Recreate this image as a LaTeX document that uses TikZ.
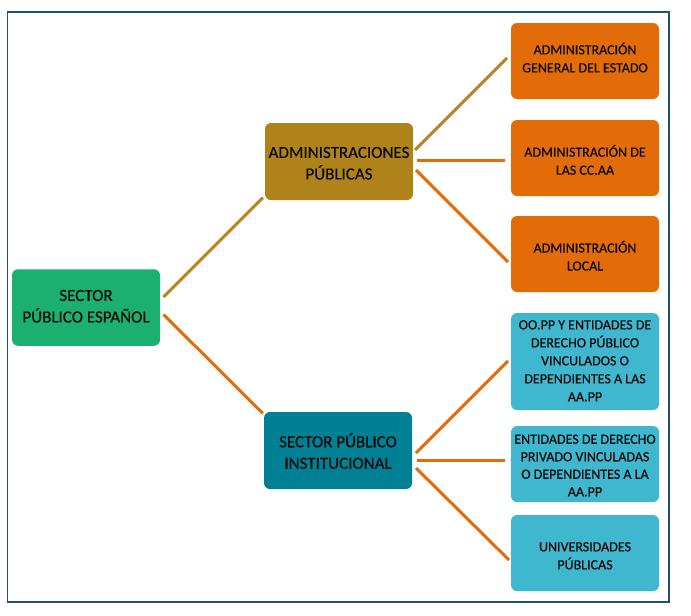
\documentclass[tikz,border=0pt]{standalone}
\usepackage{fontspec}
\setmainfont{Carlito}[FakeBold=0.35]
\definecolor{cgreen}{RGB}{27,176,112}
\definecolor{cgold}{RGB}{176,130,26}
\definecolor{clgold}{RGB}{180,135,35}
\definecolor{cteal}{RGB}{0,128,148}
\definecolor{corange}{RGB}{227,108,9}
\definecolor{clblue}{RGB}{62,183,207}
\definecolor{cframe}{RGB}{31,78,121}
\definecolor{ctext}{RGB}{10,10,10}
% top strut (height) and bottom strut (depth) to place the text in its box
\newcommand\sTop[1]{\rule{0pt}{#1}}
\newcommand\sBot[1]{\rule[-#1]{0pt}{#1}}
\tikzset{
  box/.style={rectangle, rounded corners=6pt, inner sep=0pt, outer sep=0pt,
    minimum width=148pt, minimum height=76pt, align=center, text=ctext},
  bigbox/.style={box, font=\fontsize{17}{21.5}\selectfont},
  smallbox/.style={box, font=\fontsize{14}{18}\selectfont},
  goldline/.style={draw=clgold, line width=3pt},
  orangeline/.style={draw=corange, line width=3pt},
}
\begin{document}
\begin{tikzpicture}[x=1pt,y=-1pt]
\useasboundingbox (0,0) rectangle (691,616);
\fill[white] (0,0) rectangle (691,616);
\draw[cframe, line width=1.2pt] (7.5,12) rectangle (669,602);

\node[bigbox, fill=cgreen, minimum height=76.5pt] (spe) at (86,307.5) {\sTop{18.4pt}SECTOR\\PÚBLICO ESPAÑOL\sBot{10pt}};
\node[bigbox, fill=cgold, minimum height=77pt] (ap) at (339,161.5) {\sTop{24.4pt}ADMINISTRACIONES\\PÚBLICAS\sBot{10pt}};
\node[bigbox, fill=cteal, minimum height=77pt] (spi) at (338,450.5) {\sTop{25pt}SECTOR PÚBLICO\\INSTITUCIONAL\sBot{10pt}};

\node[smallbox, fill=corange] (o1) at (585,61) {\sTop{14.6pt}ADMINISTRACIÓN\\GENERAL DEL ESTADO\sBot{10pt}};
\node[smallbox, fill=corange] (o2) at (585,158) {\sTop{25.4pt}ADMINISTRACIÓN DE\\LAS CC.AA\sBot{10pt}};
\node[smallbox, fill=corange] (o3) at (585,254) {\sTop{25pt}ADMINISTRACIÓN\\LOCAL\sBot{10pt}};

\node[smallbox, fill=clblue, minimum height=97pt] (b1) at (585,361.5) {\sTop{13.6pt}OO.PP Y ENTIDADES DE\\DERECHO PÚBLICO\\VINCULADOS O\\DEPENDIENTES A LAS\\AA.PP\sBot{6pt}};
\node[smallbox, fill=clblue, font=\fontsize{14}{17.5}\selectfont] (b2) at (585,464) {\sTop{17.5pt}ENTIDADES DE DERECHO\\PRIVADO VINCULADAS\\O DEPENDIENTES A LA\\AA.PP\sBot{5.5pt}};
\node[smallbox, fill=clblue] (b3) at (585,553) {\sTop{24.6pt}UNIVERSIDADES\\PÚBLICAS\sBot{10pt}};

\draw[goldline] ([xshift=3.5pt,yshift=10.5pt]spe.east) -- ([xshift=-2pt,yshift=2.4pt]ap.south west);
\draw[orangeline] ([xshift=3.5pt,yshift=-7pt]spe.east) -- ([xshift=-1.3pt,yshift=-1.3pt]spi.north west);

\draw[goldline] ([xshift=2pt,yshift=11.5pt]ap.east) -- ([xshift=-4pt,yshift=3pt]o1.west);
\draw[orangeline] ([xshift=4pt,yshift=1.5pt]ap.east) -- ([xshift=-6pt,yshift=-2pt]o2.west);
\draw[orangeline] ([xshift=3pt,yshift=-8.5pt]ap.east) -- ([xshift=-3pt,yshift=-8pt]o3.west);

\draw[orangeline] ([xshift=4pt,yshift=-2.5pt]spi.east) -- ([xshift=-3pt,yshift=0.5pt]b1.west);
\draw[orangeline] ([xshift=5pt,yshift=-9.5pt]spi.east) -- ([xshift=-6pt,yshift=4pt]b2.west);
\draw[orangeline] ([xshift=4pt,yshift=-17.5pt]spi.east) -- ([xshift=-2pt,yshift=-7pt]b3.west);
\end{tikzpicture}
\end{document}
